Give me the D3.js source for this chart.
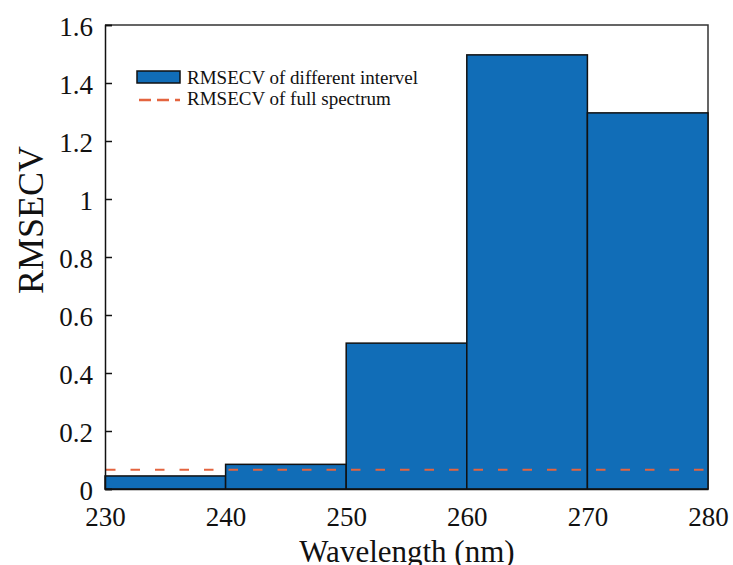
<!DOCTYPE html>
<html>
<head>
<meta charset="utf-8">
<script src="https://cdn.jsdelivr.net/npm/d3@7"></script>
<style>
  body { margin: 0; background: #fff; }
  svg { display: block; }
  svg text { font-family: "Liberation Serif", "Times New Roman", serif; fill: #111; }
</style>
</head>
<body>
<svg id="chart" width="733" height="565"></svg>
<script>
// interval bins (nm) and their RMSECV
const binStarts = [230, 240, 250, 260, 270];
const binEnds   = [240, 250, 260, 270, 280];
const rmsecv    = [0.045, 0.085, 0.503, 1.497, 1.297];
const fullSpectrum = 0.066;
const xTicks = [230, 240, 250, 260, 270, 280];
const yTicks = [0, 0.2, 0.4, 0.6, 0.8, 1, 1.2, 1.4, 1.6];
const legendLabels = ["RMSECV of different intervel", "RMSECV of full spectrum"];

const svg = d3.select("#chart");
const plot = { left: 105, right: 708, top: 25, bottom: 489 };

const x = d3.scaleLinear().domain([230, 280]).range([plot.left, plot.right]);
const y = d3.scaleLinear().domain([0, 1.6]).range([plot.bottom, plot.top]);

const bars = binStarts.map((s, i) => ({ s: s, e: binEnds[i], v: rmsecv[i] }));

// frame (top/right)
svg.append("path")
  .attr("d", `M${plot.left},${plot.top}H${plot.right}V${plot.bottom}`)
  .attr("fill", "none")
  .attr("stroke", "#333")
  .attr("stroke-width", 1.5);

// bars
svg.append("g")
  .selectAll("rect")
  .data(bars)
  .enter()
  .append("rect")
  .attr("x", d => x(d.s))
  .attr("y", d => y(d.v))
  .attr("width", d => x(d.e) - x(d.s))
  .attr("height", d => y(0) - y(d.v))
  .attr("fill", "#116db7")
  .attr("stroke", "#111")
  .attr("stroke-width", 1.5);

// full spectrum line
svg.append("line")
  .attr("x1", x(230) + 1).attr("x2", x(280) - 2)
  .attr("y1", y(fullSpectrum)).attr("y2", y(fullSpectrum))
  .attr("stroke", "#e4643f")
  .attr("stroke-width", 2)
  .attr("stroke-dasharray", "9.5,15");

// y axis
const yAxis = svg.append("g")
  .attr("transform", `translate(${plot.left},0)`)
  .call(d3.axisRight(y).tickValues(yTicks).tickSize(7).tickFormat(d3.format("~g")));
yAxis.select(".domain").attr("stroke", "#111").attr("stroke-width", 1.5);
yAxis.selectAll(".tick line").attr("stroke", "#111").attr("stroke-width", 1.5);
yAxis.selectAll(".tick text")
  .attr("x", -12)
  .attr("dy", "0.38em")
  .attr("text-anchor", "end")
  .style("font-size", "27px");

// x axis
const xAxis = svg.append("g")
  .attr("transform", `translate(0,${plot.bottom})`)
  .call(d3.axisBottom(x).tickValues(xTicks).tickSize(0).tickFormat(d3.format("d")));
xAxis.select(".domain").attr("stroke", "#111").attr("stroke-width", 1.5);
xAxis.selectAll(".tick text")
  .attr("y", 18)
  .style("font-size", "27px");

// axis titles
svg.append("text")
  .attr("transform", `translate(43,${(plot.top + plot.bottom) / 2 - 37}) rotate(-90)`)
  .attr("text-anchor", "middle")
  .style("font-size", "36px")
  .text("RMSECV");

svg.append("text")
  .attr("x", 407)
  .attr("y", 562)
  .attr("text-anchor", "middle")
  .style("font-size", "31px")
  .text("Wavelength (nm)");

// legend
const lg = svg.append("g");
lg.append("rect")
  .attr("x", 137).attr("y", 71)
  .attr("width", 43).attr("height", 12)
  .attr("fill", "#116db7")
  .attr("stroke", "#111")
  .attr("stroke-width", 1.5);
lg.append("line")
  .attr("x1", 139).attr("x2", 180)
  .attr("y1", 100).attr("y2", 100)
  .attr("stroke", "#e4643f")
  .attr("stroke-width", 2.5)
  .attr("stroke-dasharray", "12,6");
lg.selectAll("text")
  .data(legendLabels)
  .enter()
  .append("text")
  .attr("x", 187)
  .attr("y", (d, i) => 84 + i * 21)
  .style("font-size", "19px")
  .text(d => d);
</script>
</body>
</html>
